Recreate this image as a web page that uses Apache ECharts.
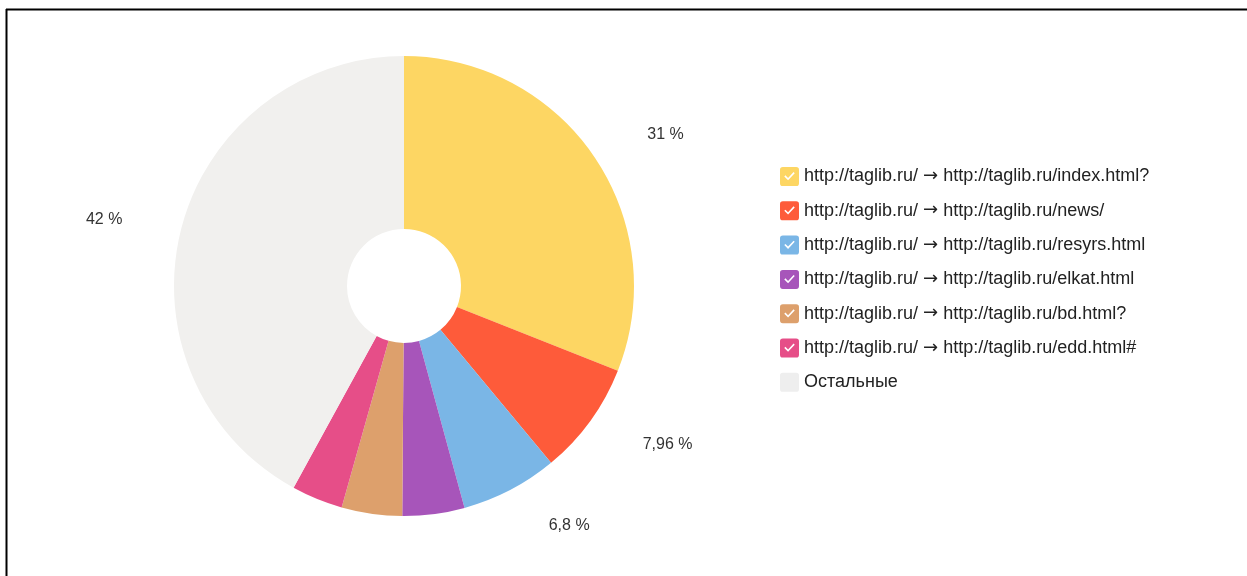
<!DOCTYPE html>
<html>
<head>
<meta charset="utf-8">
<script src="https://cdn.jsdelivr.net/npm/echarts@6/dist/echarts.min.js"></script>
<style>
html,body{margin:0;padding:0;background:#fff;}
#chart{width:1247px;height:576px;}
</style>
</head>
<body>
<div id="chart"></div>
<script>
const categories = [
  'http://taglib.ru/ \u2192 http://taglib.ru/index.html?',
  'http://taglib.ru/ \u2192 http://taglib.ru/news/',
  'http://taglib.ru/ \u2192 http://taglib.ru/resyrs.html',
  'http://taglib.ru/ \u2192 http://taglib.ru/elkat.html',
  'http://taglib.ru/ \u2192 http://taglib.ru/bd.html?',
  'http://taglib.ru/ \u2192 http://taglib.ru/edd.html#',
  'Остальные'
];
const shares = [31, 7.96, 6.8, 4.36, 4.25, 3.6, 42.03];
const sliceLabels = ['31 %', '7,96 %', '6,8 %', '', '', '', '42 %'];
const colors = ['#FDD663', '#FE5B3A', '#7AB6E6', '#A755BA', '#DDA06C', '#E64E88', '#F1F0EE'];

const checkIcon = 'path://M3,0 H17 Q20,0 20,3 V17 Q20,20 17,20 H3 Q0,20 0,17 V3 Q0,0 3,0 Z M4.5,10 L8.5,14 L15.5,6.5 L14.3,5.3 L8.5,11.6 L5.7,8.8 Z';
const plainIcon = 'path://M3,0 H17 Q20,0 20,3 V17 Q20,20 17,20 H3 Q0,20 0,17 V3 Q0,0 3,0 Z';

const FONT = "'Liberation Sans', Arial, sans-serif";

const chart = echarts.init(document.getElementById('chart'));
chart.setOption({
  animation: false,
  color: colors,
  graphic: [
    {type: 'line', shape: {x1: 6, y1: 9.5, x2: 1247, y2: 9.5}, style: {stroke: '#000', lineWidth: 2}},
    {type: 'line', shape: {x1: 6.5, y1: 9, x2: 6.5, y2: 576}, style: {stroke: '#000', lineWidth: 2}}
  ],
  legend: {
    orient: 'vertical',
    left: 780,
    top: 167,
    padding: 0,
    itemWidth: 19,
    itemHeight: 19,
    itemGap: 15.3,
    selectedMode: false,
    formatter: name => {
      const parts = name.split(' \u2192 ');
      if (parts.length < 2) return '{t|' + name + '}';
      return '{t|' + parts[0] + ' }{arr|\u2192}{t| ' + parts[1] + '}';
    },
    textStyle: {
      fontFamily: FONT, fontSize: 18, color: '#222',
      rich: {
        t: {fontFamily: FONT, fontSize: 18, color: '#222'},
        arr: {fontFamily: "'DejaVu Sans'", fontSize: 18, color: '#222'}
      }
    },
    data: categories.map((n, i) => ({
      name: n,
      icon: i === categories.length - 1 ? plainIcon : checkIcon,
      itemStyle: i === categories.length - 1 ? {color: '#EEEEEE'} : undefined
    }))
  },
  series: [{
    type: 'pie',
    center: [404, 286],
    radius: [57, 230],
    startAngle: 90,
    avoidLabelOverlap: false,
    label: {
      show: true,
      position: 'outside',
      fontFamily: FONT,
      fontSize: 16,
      color: '#333',
      formatter: p => sliceLabels[p.dataIndex]
    },
    labelLine: {show: false, length: 40, length2: 15},
    emphasis: {disabled: true},
    data: categories.map((n, i) => ({name: n, value: shares[i]}))
  }]
});
</script>
</body>
</html>
